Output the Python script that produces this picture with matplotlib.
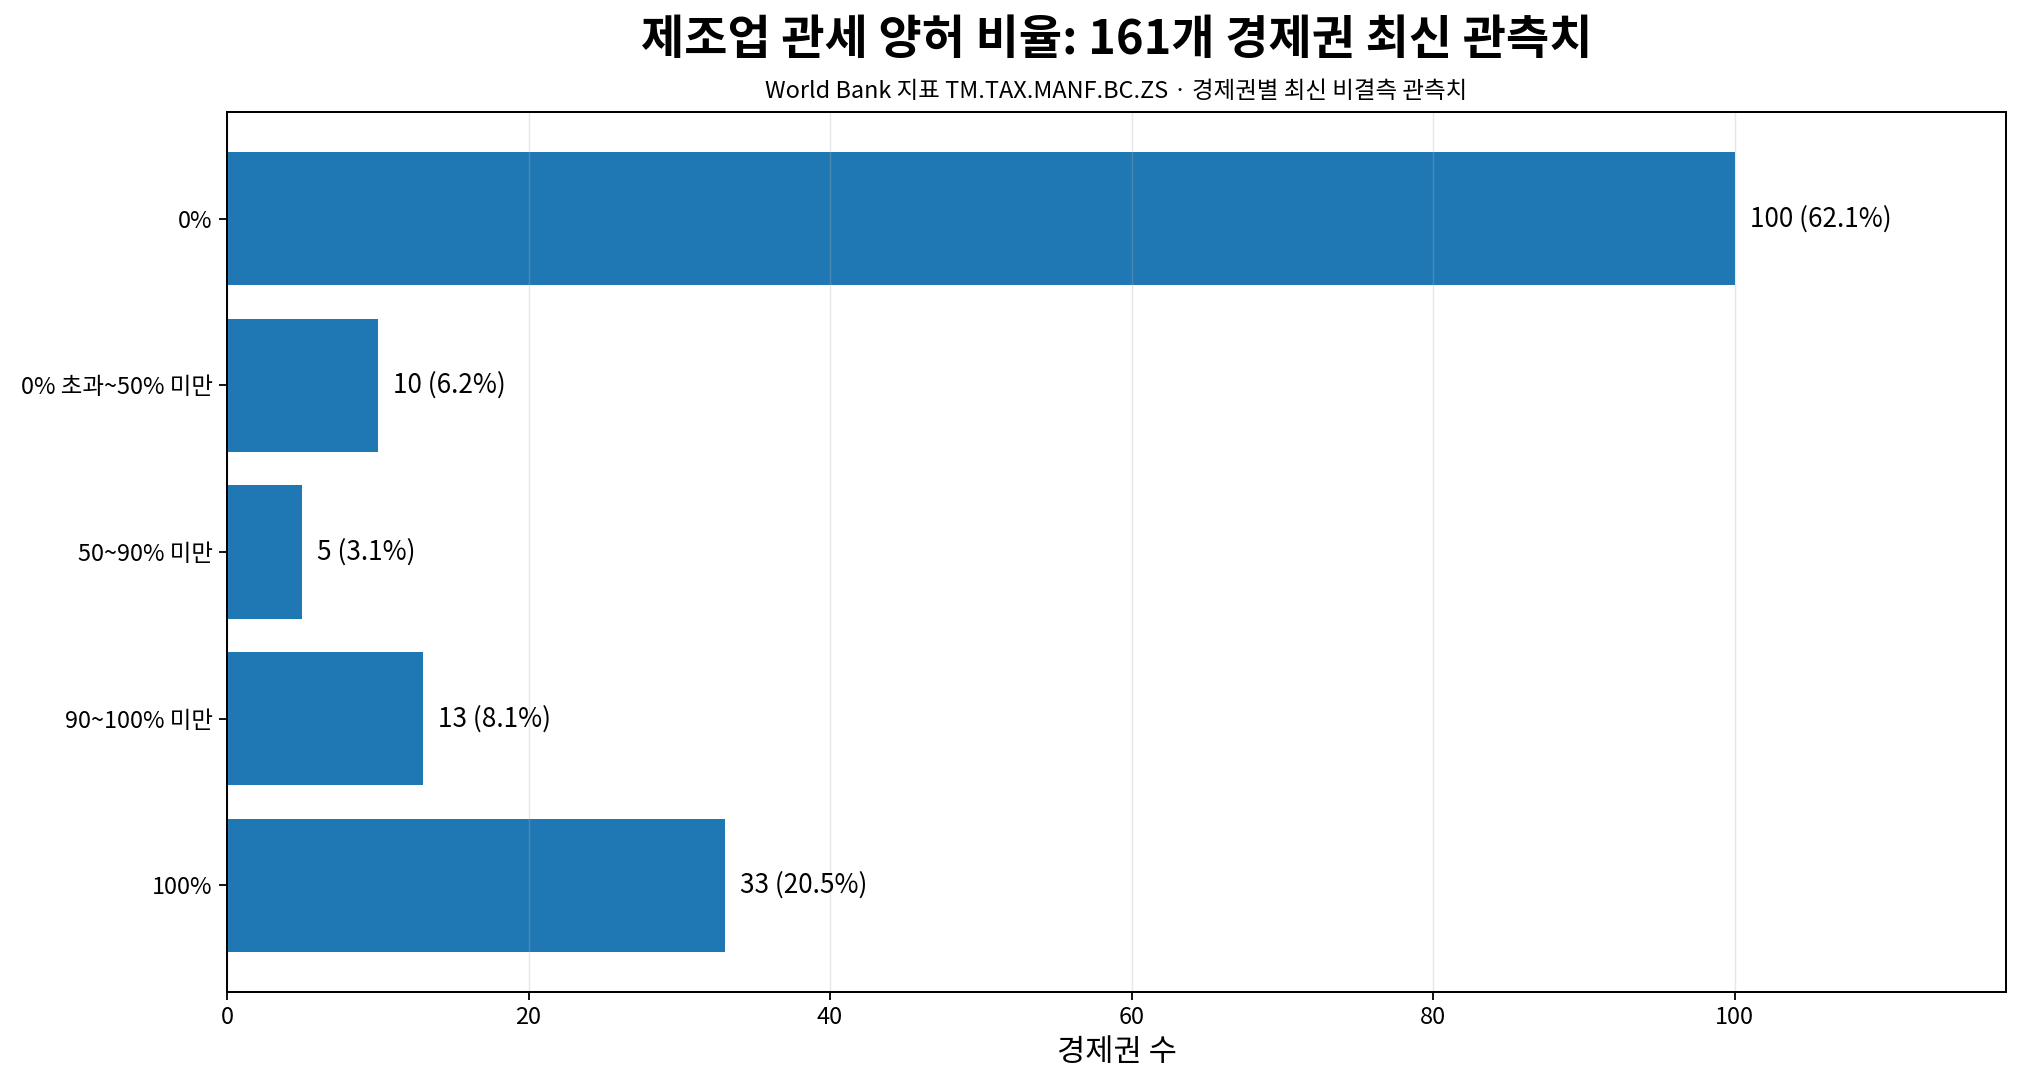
import matplotlib
matplotlib.use('agg')
import matplotlib.pyplot as plt

plt.rcParams['font.family'] = ['Noto Sans CJK KR', 'DejaVu Sans']

categories = ['0%', '0% 초과~50% 미만', '50~90% 미만', '90~100% 미만', '100%']
counts = [100, 10, 5, 13, 33]
shares = [62.1, 6.2, 3.1, 8.1, 20.5]

title = '제조업 관세 양허 비율: 161개 경제권 최신 관측치'
subtitle = 'World Bank 지표 TM.TAX.MANF.BC.ZS · 경제권별 최신 비결측 관측치'

fig = plt.figure(figsize=(2022 / 130, 1089 / 130), dpi=130)
left, right = 227 / 2022, 2006 / 2022
ax = fig.add_axes([left, 1 - 992 / 1089, right - left, (992 - 112) / 1089])

ypos = list(range(len(categories)))
ax.barh(ypos, counts, height=0.8, color='#1f77b4')
ax.set_yticks(ypos)
ax.set_yticklabels(categories, fontsize=13)
ax.invert_yaxis()
ax.set_xlim(0, max(counts) * 1.18)
ax.tick_params(axis='x', labelsize=13)
ax.tick_params(length=4.5, width=1)
ax.grid(axis='x', alpha=0.3)
for sp in ax.spines.values():
    sp.set_linewidth(1.1)

for y, c, s in zip(ypos, counts, shares):
    ax.text(c + 1, y, '%d (%.1f%%)' % (c, s), va='center', ha='left', fontsize=14.5)

ax.set_xlabel('경제권 수', fontsize=17)
xc = (left + right) / 2
fig.text(xc, 1 - 40 / 1089, title, ha='center', va='center', fontsize=26, fontweight='bold')
fig.text(xc, 1 - 92 / 1089, subtitle, ha='center', va='center', fontsize=13)

fig.savefig('out.png', dpi=130)
